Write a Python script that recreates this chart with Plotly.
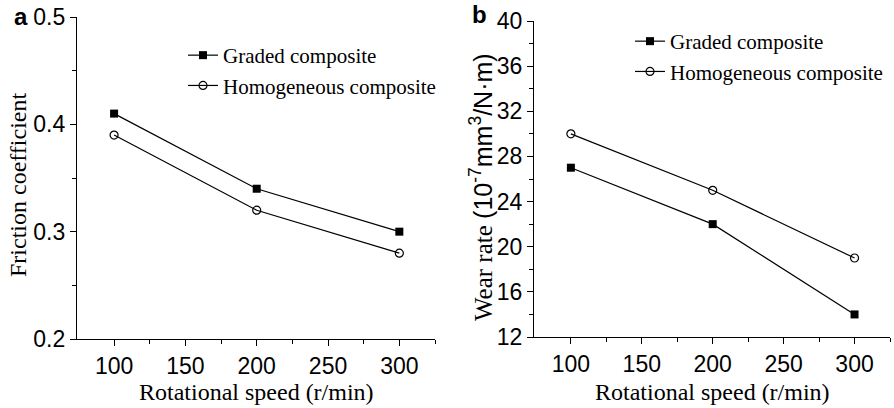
import plotly.graph_objects as go

speed = [100, 200, 300]
friction_graded = [0.41, 0.34, 0.30]
friction_homog = [0.39, 0.32, 0.28]
wear_graded = [27, 22, 14]
wear_homog = [30, 25, 19]

x_ticks = [100, 150, 200, 250, 300]
fric_ticks = [0.2, 0.3, 0.4, 0.5]
fric_ticklabels = ["0.2", "0.3", "0.4", "0.5"]
wear_ticks = [12, 16, 20, 24, 28, 32, 36, 40]

names = ["Graded composite", "Homogeneous composite"]

TICKFONT = dict(family="Liberation Sans Narrow, Arial Narrow, Liberation Sans, Arial", size=23, color="black")
SERIF = "Liberation Serif, Times New Roman, serif"

fig = go.Figure()

def add_pair(xa, ya, g, h, legend):
    fig.add_trace(go.Scatter(x=speed, y=g, mode="lines+markers", name=names[0],
                             xaxis=xa, yaxis=ya, legend=legend,
                             line=dict(color="black", width=1.2),
                             marker=dict(symbol="square", size=8, color="black")))
    fig.add_trace(go.Scatter(x=speed, y=h, mode="lines+markers", name=names[1],
                             xaxis=xa, yaxis=ya, legend=legend,
                             line=dict(color="black", width=1.2),
                             marker=dict(symbol="circle-open", size=8, color="black",
                                         line=dict(width=1.2, color="black"))))

add_pair("x", "y", friction_graded, friction_homog, "legend")
add_pair("x2", "y2", wear_graded, wear_homog, "legend2")

def xaxis_cfg(domain, anchor):
    return dict(domain=domain, anchor=anchor, range=[74, 325], tickvals=x_ticks,
                showline=True, linecolor="black", linewidth=1.2, mirror=False,
                ticks="outside", ticklen=6, tickwidth=1.2, tickcolor="black",
                minor=dict(tickvals=[125, 175, 225, 275, 325], ticks="outside", ticklen=4,
                           tickwidth=1.2, tickcolor="black"),
                showgrid=False, zeroline=False, tickfont=TICKFONT)

def yaxis_cfg(domain, anchor, rng, tv, minor_tv, tt=None):
    d = dict(domain=domain, anchor=anchor, range=rng, tickvals=tv,
             showline=True, linecolor="black", linewidth=1.2, mirror=False,
             ticks="outside", ticklen=6, tickwidth=1.2, tickcolor="black",
             minor=dict(tickvals=minor_tv, ticks="outside", ticklen=4,
                        tickwidth=1.2, tickcolor="black"),
             showgrid=False, zeroline=False, tickfont=TICKFONT)
    if tt is not None:
        d["ticktext"] = tt
    return d

fig.update_layout(
    width=894, height=408,
    margin=dict(l=0, r=0, t=0, b=0, autoexpand=False),
    paper_bgcolor="white", plot_bgcolor="white",
    font=dict(family=SERIF, color="black"),
    xaxis=xaxis_cfg([77/894, 435/894], "y"),
    yaxis=yaxis_cfg([69/408, 391/408], "x", [0.2, 0.5], fric_ticks, [0.25, 0.35, 0.45], fric_ticklabels),
    xaxis2=xaxis_cfg([534/894, 890/894], "y2"),
    yaxis2=yaxis_cfg([71/408, 387/408], "x2", [12, 40], wear_ticks, [14, 18, 22, 26, 30, 34, 38]),
    legend=dict(x=183/894, y=1 - 35/408, xanchor="left", yanchor="top",
                font=dict(family=SERIF, size=21, color="black"),
                bgcolor="rgba(0,0,0,0)", tracegroupgap=0, itemwidth=30),
    legend2=dict(x=630/894, y=1 - 21/408, xanchor="left", yanchor="top",
                 font=dict(family=SERIF, size=21, color="black"),
                 bgcolor="rgba(0,0,0,0)", tracegroupgap=0, itemwidth=30),
    annotations=[
        dict(text="<b>a</b>", x=12/894, y=1 - 17/408, xref="paper", yref="paper",
             xanchor="left", yanchor="middle", showarrow=False,
             font=dict(family="Liberation Sans, Arial", size=24, color="black")),
        dict(text="<b>b</b>", x=470/894, y=1 - 15/408, xref="paper", yref="paper",
             xanchor="left", yanchor="middle", showarrow=False,
             font=dict(family="Liberation Sans, Arial", size=24, color="black")),
        dict(text="Rotational speed (r/min)", x=256/894, y=1 - 392/408, xref="paper", yref="paper",
             xanchor="center", yanchor="middle", showarrow=False,
             font=dict(family=SERIF, size=24, color="black")),
        dict(text="Rotational speed (r/min)", x=712/894, y=1 - 392/408, xref="paper", yref="paper",
             xanchor="center", yanchor="middle", showarrow=False,
             font=dict(family=SERIF, size=24, color="black")),
        dict(text="Friction coefficient", x=18/894, y=1 - 185/408, xref="paper", yref="paper",
             xanchor="center", yanchor="middle", showarrow=False, textangle=-90,
             font=dict(family=SERIF, size=24, color="black")),
        dict(text="Wear rate <span style=\"font-family:Liberation Sans Narrow, Liberation Sans, Arial\">(10<sup>-7</sup>mm<sup>3</sup>/N·m)</span>",
             x=481/894, y=1 - 187/408, xref="paper", yref="paper",
             xanchor="center", yanchor="middle", showarrow=False, textangle=-90,
             font=dict(family=SERIF, size=25, color="black")),
    ],
)

fig.write_html("out.html")
